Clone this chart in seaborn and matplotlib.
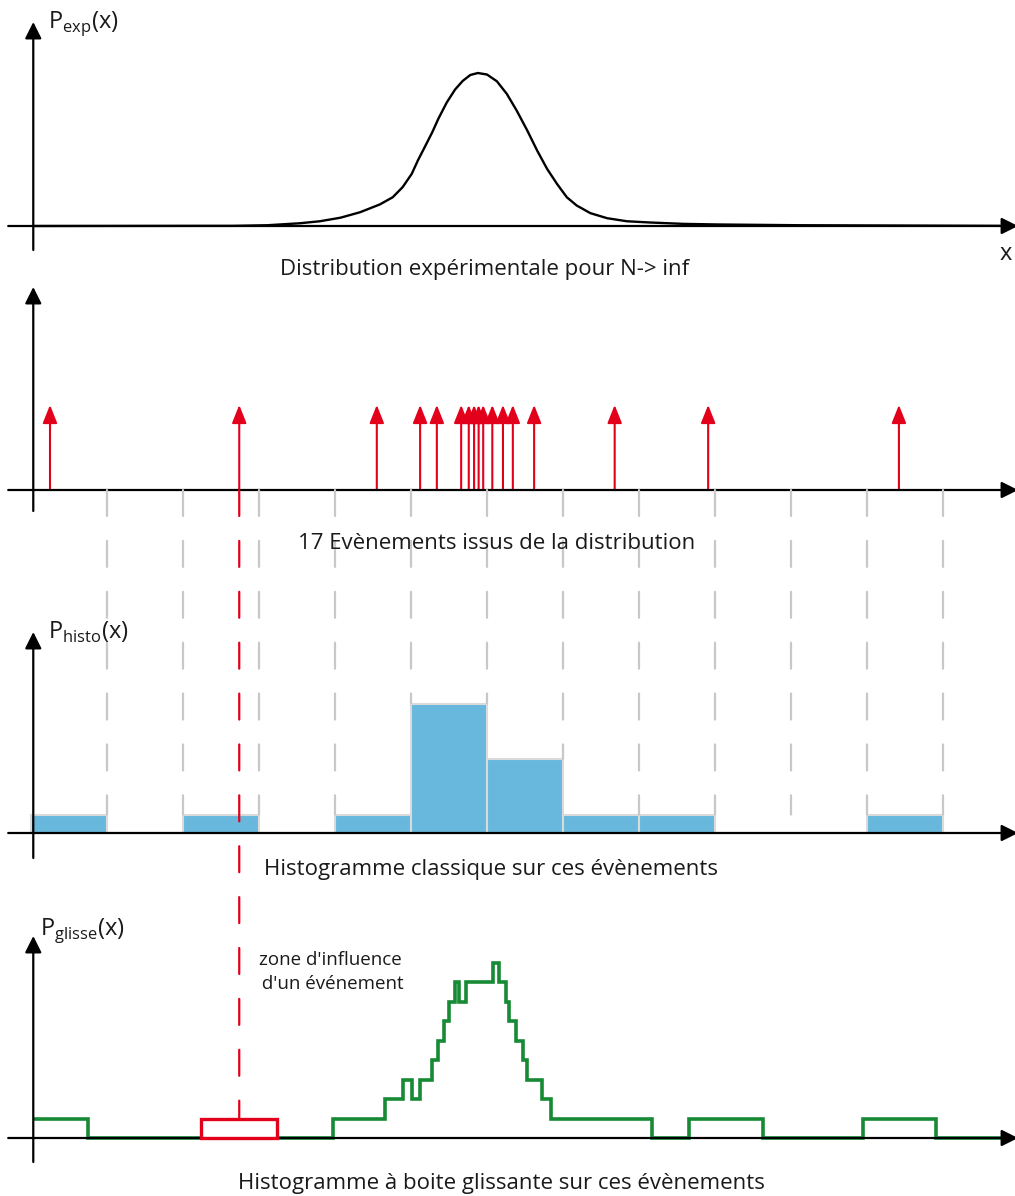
import numpy as np
import matplotlib
matplotlib.use('Agg')
import matplotlib.pyplot as plt
import seaborn as sns
from matplotlib.patches import ConnectionPatch, Rectangle

sns.set_theme(style='white')
plt.rcParams['font.family'] = ['Open Sans', 'DejaVu Sans']
plt.rcParams['mathtext.fontset'] = 'custom'
plt.rcParams['mathtext.rm'] = 'Open Sans'

# experimental distribution (x in bin-width units, density normalised to its peak)
curve_x = [0.03, 2.22, 2.66, 3.11, 3.54, 3.80, 4.07, 4.33, 4.59, 4.76, 4.89, 5.01,
           5.09, 5.18, 5.28, 5.36, 5.47, 5.58, 5.68, 5.78, 5.88, 6.00, 6.13, 6.26,
           6.39, 6.53, 6.66, 6.79, 6.92, 7.05, 7.18, 7.36, 7.58, 7.84, 8.14, 8.58,
           9.03, 9.46, 10.12, 12.75]
curve_y = [0.0, 0.001, 0.001, 0.005, 0.018, 0.031, 0.054, 0.090, 0.141, 0.188, 0.254, 0.341,
           0.428, 0.515, 0.613, 0.701, 0.807, 0.892, 0.948, 0.987, 1.0, 0.990, 0.946, 0.864,
           0.755, 0.624, 0.493, 0.374, 0.276, 0.188, 0.134, 0.084, 0.051, 0.031, 0.023, 0.014,
           0.010, 0.008, 0.005, 0.001]

# the 17 events drawn from the distribution
events = [0.25, 2.74, 4.55, 5.12, 5.34, 5.66, 5.76, 5.83, 5.89, 5.95,
          6.07, 6.21, 6.34, 6.62, 7.68, 8.91, 11.42]
bin_edges = list(range(13))
influence_idx = 1  # event whose box is highlighted

# sliding-box histogram as drawn (step edges and event counts)
slide_edges = [0.03, 0.75, 3.97, 4.66, 4.89, 5.01, 5.12, 5.28, 5.36, 5.43, 5.50, 5.58,
               5.63, 5.72, 6.08, 6.16, 6.25, 6.29, 6.38, 6.47, 6.53, 6.72, 6.84, 8.17,
               8.66, 9.63, 10.95, 11.91, 12.82]
slide_counts = [1, 0, 1, 2, 3, 2, 3, 4, 5, 6, 7, 8, 7, 8, 9, 8, 7, 6, 5, 4, 3, 2, 1, 0,
                1, 0, 1, 0]

captions = ["Distribution expérimentale pour N-> inf",
            "17 Evènements issus de la distribution",
            "Histogramme classique sur ces évènements",
            "Histogramme à boite glissante sur ces évènements"]

RED = '#e3001b'
BLUE = '#67b8dc'
GREEN = '#168a34'
GREY = '#c8c8c8'

W, H = 1015, 1196
fig = plt.figure(figsize=(W / 100, H / 100), dpi=100)
X_LO, X_HI = -31 / 76, (W - 31) / 76
YAX = 0.03


def arrow(ax, start, end):
    ax.annotate('', xy=end, xytext=start, annotation_clip=False,
                arrowprops=dict(arrowstyle='-|>,head_length=0.5,head_width=0.25',
                                color='black', lw=1.6, shrinkA=0, shrinkB=0,
                                mutation_scale=20))


def make_panel(top, bottom):
    return fig.add_axes([0, 1 - bottom / H, 1, (bottom - top) / H])


def finish_panel(ax, top, bottom, base, unit):
    ylo, yhi = -(bottom - base) / unit, (base - top) / unit
    ax.set_xlim(X_LO, X_HI)
    ax.set_ylim(ylo, yhi)
    ax.set_axis_off()
    arrow(ax, (-0.3, 0), (X_HI + 0.04, 0))
    arrow(ax, (YAX, ylo), (YAX, yhi))


def ftext(x, y, s, **kw):
    fig.text(x / W, 1 - y / H, s, **kw)


# panel 1 : distribution
ax1 = make_panel(22, 250)
sns.lineplot(x=curve_x, y=curve_y, ax=ax1, color='black', lw=1.7, zorder=3)
finish_panel(ax1, 22, 250, 226, 153)

# panel 2 : events
ax2 = make_panel(287, 511)
for ev in events:
    ax2.annotate('', xy=(ev, 1), xytext=(ev, 0),
                 arrowprops=dict(arrowstyle='-|>,head_length=0.55,head_width=0.22',
                                 color=RED, lw=1.5, shrinkA=0, shrinkB=0,
                                 mutation_scale=20))
finish_panel(ax2, 287, 511, 490, 85)

# panel 3 : classic histogram
ax3 = make_panel(632, 858)
sns.histplot(x=events, bins=bin_edges, ax=ax3, color=BLUE, edgecolor='#dadada',
             linewidth=1.5, alpha=1)
finish_panel(ax3, 632, 858, 833, 18.5)

# panel 4 : sliding box histogram
ax4 = make_panel(936, 1162)
ax4.stairs(slide_counts, slide_edges, color=GREEN, lw=2.6, baseline=None, zorder=3)
ax4.add_patch(Rectangle((events[influence_idx] - 0.5, 0), 1, 1, facecolor='white',
                        edgecolor=RED, lw=2.4, zorder=5))
finish_panel(ax4, 936, 1162, 1138, 19.5)

# dashed guides from the events panel down to the histograms
hist_counts, _ = np.histogram(events, bins=bin_edges)
dash = (0, (11.7, 11.2))
for k in bin_edges[1:]:
    left = hist_counts[k - 1]
    right = hist_counts[k] if k < len(hist_counts) else 0
    stop = max(1, left, right)
    fig.add_artist(ConnectionPatch(xyA=(k, 0), coordsA=ax2.transData,
                                   xyB=(k, stop), coordsB=ax3.transData,
                                   color=GREY, lw=1.6, linestyle=dash, zorder=0.5))
fig.add_artist(ConnectionPatch(xyA=(events[influence_idx], 0), coordsA=ax2.transData,
                               xyB=(events[influence_idx], 1), coordsB=ax4.transData,
                               color=RED, lw=1.6, linestyle=dash, zorder=0.5))

# texts
cap_kw = dict(ha='center', va='center', fontsize=16, color='#1a1a1a')
ftext(485, 269, captions[0], **cap_kw)
ftext(497, 544, captions[1], **cap_kw)
ftext(491, 869, captions[2], **cap_kw)
ftext(501, 1183, captions[3], **cap_kw)

lab_kw = dict(ha='left', va='center', fontsize=17, color='#1a1a1a')
ftext(48, 24, r'P$_{\mathrm{exp}}$(x)', **lab_kw)
ftext(48, 632, r'P$_{\mathrm{histo}}$(x)', **lab_kw)
ftext(40, 930, r'P$_{\mathrm{glisse}}$(x)', **lab_kw)
ftext(1012, 254, 'x', ha='right', va='center', fontsize=17, color='#1a1a1a')

ftext(330, 972, "zone d'influence\n d'un événement", ha='center', va='center',
      fontsize=13.5, color='#1a1a1a', linespacing=1.45)

fig.savefig('out.png', dpi=100)
